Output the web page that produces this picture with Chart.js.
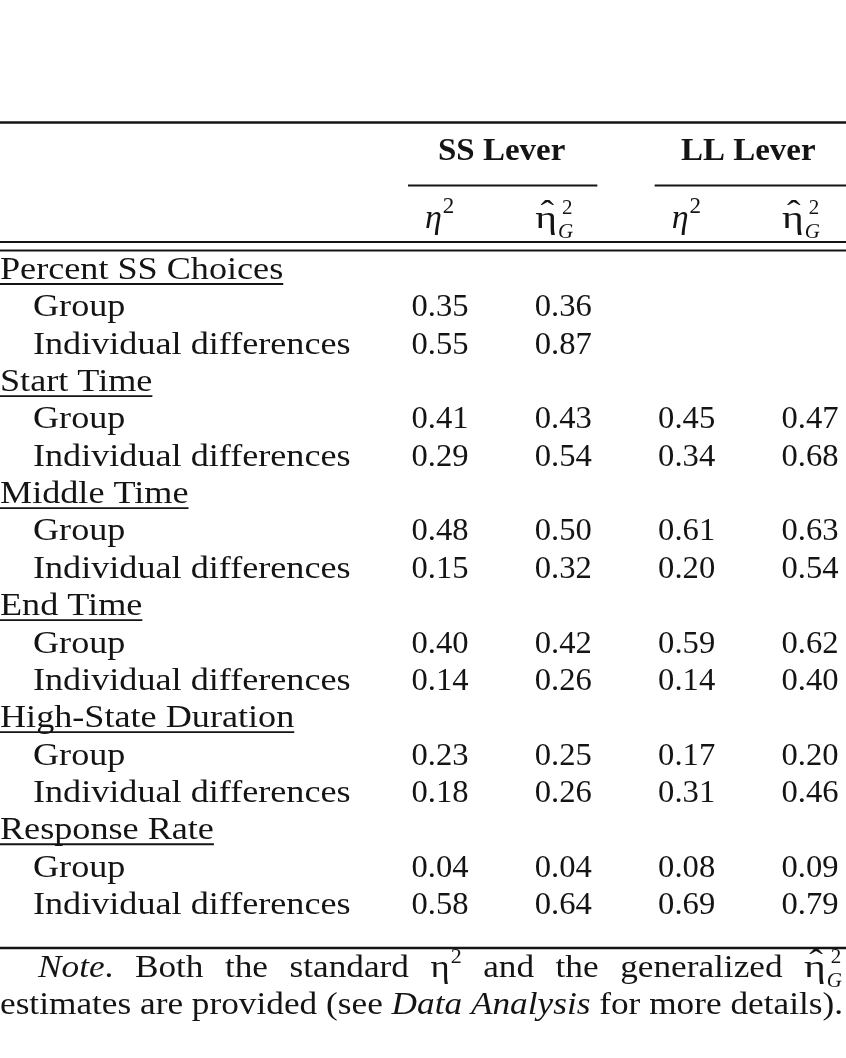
<!DOCTYPE html>
<html><head><meta charset="utf-8">
<script src="https://cdn.jsdelivr.net/npm/chart.js@4/dist/chart.umd.min.js"></script>
<style>html,body{margin:0;padding:0;background:#fff}#wrap{width:846px;height:1058px;position:relative}</style>
</head><body><div id="wrap"><canvas id="c"></canvas></div>
<script>
// ---- data ----
const sections = ['Percent SS Choices','Start Time','Middle Time','End Time','High-State Duration','Response Rate'];
const items = ['Group','Individual differences'];
const leverLabels = ['SS Lever','LL Lever'];
const ssEta  = [0.35,0.55, 0.41,0.29, 0.48,0.15, 0.40,0.14, 0.23,0.18, 0.04,0.58];
const ssEtaG = [0.36,0.87, 0.43,0.54, 0.50,0.32, 0.42,0.26, 0.25,0.26, 0.04,0.64];
const llEta  = [null,null, 0.45,0.34, 0.61,0.20, 0.59,0.14, 0.17,0.31, 0.08,0.69];
const llEtaG = [null,null, 0.47,0.68, 0.63,0.54, 0.62,0.40, 0.20,0.46, 0.09,0.79];
const seriesList = [ssEta, ssEtaG, llEta, llEtaG];
const seriesKinds = ['eta','etaG','eta','etaG'];
const noteLine1 = ['Both','the','standard','η²','and','the','generalized','η̂G²'];
const noteLine2 = [['estimates are provided (see ',false],['Data Analysis',true],[' for more details).',false]];

// ---- layout (pixels / row units) ----
const ROW_PX = 37.35, FIRST_ROW_PX = 268, COL_PX = 123.33, FIRST_COL_PX = 440;
const W = 846, H = 1058;
const SERIF = '"Liberation Serif", "Times New Roman", serif';
const INK = '#141414';

function buildData(vals, col){
  const out = [];
  vals.forEach((v,i)=>{
    if (v === null) return;
    const s = Math.floor(i/2), k = i%2;
    out.push({x: col, y: s*3 + 1 + k, v: v});
  });
  return out;
}

function txt(ctx, t, x, y, font, align, sx, draw){
  ctx.save();
  ctx.font = font;
  ctx.textBaseline = 'alphabetic';
  ctx.textAlign = 'left';
  const w = ctx.measureText(t).width * (sx||1);
  let x0 = x;
  if (align === 'center') x0 = x - w/2;
  else if (align === 'right') x0 = x - w;
  if (draw !== false) {
    ctx.translate(x0, y);
    ctx.scale(sx||1, 1);
    ctx.fillText(t, 0, 0);
  }
  ctx.restore();
  return w;
}
function rule(ctx, x1, x2, y, lw){
  ctx.save(); ctx.strokeStyle = INK; ctx.lineWidth = lw;
  ctx.beginPath(); ctx.moveTo(x1, y); ctx.lineTo(x2, y); ctx.stroke(); ctx.restore();
}
// eta symbols; return total width
function drawEta(ctx, x, base, size, italic, draw){
  const w = txt(ctx, 'η', x, base, (italic?'italic ':'') + size + 'px ' + SERIF, 'left', italic?1:1.15, draw);
  const w2 = txt(ctx, '2', x + w + 1, base - size*0.45, Math.round(size*0.68) + 'px ' + SERIF, 'left', 1, draw);
  return w + 1 + w2;
}
function drawEtaG(ctx, x, base, size, draw){
  const f = size + 'px ' + SERIF;
  const w = txt(ctx, 'η', x, base, f, 'left', 1.3, draw);
  txt(ctx, 'ˆ', x + w/2 + 1, base - size*0.13, Math.round(size*1.05) + 'px ' + SERIF, 'center', 1.2, draw);
  const s = Math.round(size*0.66);
  const wg = txt(ctx, 'G', x + w + 1, base + size*0.3, 'italic ' + s + 'px ' + SERIF, 'left', 1, draw);
  txt(ctx, '2', x + w + 5, base - size*0.45, s + 'px ' + SERIF, 'left', 1, draw);
  return w + 1 + wg;
}

const tablePlugin = {
  id: 'tablePlugin',
  afterDatasetsDraw(chart){
    const ctx = chart.ctx, ys = chart.scales.y, xs = chart.scales.x;
    const L = chart.chartArea.left, R = chart.chartArea.right;
    ctx.save();
    ctx.fillStyle = INK;
    const py = r => ys.getPixelForValue(r);
    const px = c => xs.getPixelForValue(c);
    // rules
    rule(ctx, L, R, 122.5, 2.6);
    rule(ctx, L, R, 242, 2);
    rule(ctx, L, R, 250.5, 2.2);
    rule(ctx, L, R, 948, 2.6);
    // lever headers
    leverLabels.forEach((lab, i)=>{
      const c1 = px(1 + i*2), c2 = px(2 + i*2);
      const baseY = py(-3.16) + 10;
      txt(ctx, lab, (c1+c2)/2, baseY, 'bold 32px ' + SERIF, 'center', 1.03);
      rule(ctx, c1 - 32, i === leverLabels.length-1 ? R : c2 + 34, 185.5, 2.2);
    });
    // sub headers
    seriesKinds.forEach((k, i)=>{
      const cx = px(1 + i), base = py(-1.23) + 6;
      if (k === 'eta') drawEta(ctx, cx - 15, base, 34, true);
      else drawEtaG(ctx, cx - 28, base, 32);
    });
    // row labels
    sections.forEach((s, si)=>{
      const base = py(si*3) + 11;
      const w = txt(ctx, s, L, base, '32px ' + SERIF, 'left', 1.13);
      rule(ctx, L, L + w, base + 5, 1.8);
      items.forEach((it, k)=>{
        txt(ctx, it, L + 33, py(si*3 + 1 + k) + 11, '32px ' + SERIF, 'left', 1.13);
      });
    });
    // values
    chart.data.datasets.forEach((ds, di)=>{
      const meta = chart.getDatasetMeta(di);
      meta.data.forEach((el, j)=>{
        txt(ctx, ds.data[j].v.toFixed(2), el.x, el.y + 11, '32px ' + SERIF, 'center', 1.02);
      });
    });
    // note
    const nb1 = 977, nb2 = 1014, nf = 32;
    let w2 = 0;
    noteLine2.forEach(([t, it])=>{ ctx.font = (it?'italic ':'') + nf + 'px ' + SERIF; w2 += ctx.measureText(t).width; });
    const sx2 = (R - 3 - L) / w2;
    let xx = L;
    noteLine2.forEach(([t, it])=>{ xx += txt(ctx, t, xx, nb2, (it?'italic ':'') + nf + 'px ' + SERIF, 'left', sx2); });
    // line 1 justified
    const start = L + 38;
    const widths = noteLine1.map(wd=>{
      if (wd === 'η²') return drawEta(ctx, 0, 0, nf, false, false);
      if (wd === 'η̂G²') return drawEtaG(ctx, 0, 0, nf, false);
      return txt(ctx, wd, 0, 0, nf + 'px ' + SERIF, 'left', sx2, false);
    });
    let sum = txt(ctx, 'Note', 0, 0, 'italic ' + nf + 'px ' + SERIF, 'left', sx2, false)
            + txt(ctx, '.', 0, 0, nf + 'px ' + SERIF, 'left', sx2, false);
    widths.forEach(w=> sum += w);
    const gap = (R - 4 - start - sum) / noteLine1.length;
    let x1 = start;
    x1 += txt(ctx, 'Note', x1, nb1, 'italic ' + nf + 'px ' + SERIF, 'left', sx2);
    x1 += txt(ctx, '.', x1, nb1, nf + 'px ' + SERIF, 'left', sx2);
    noteLine1.forEach((wd, i)=>{
      x1 += gap;
      if (wd === 'η²') drawEta(ctx, x1, nb1, nf, false);
      else if (wd === 'η̂G²') drawEtaG(ctx, x1, nb1, nf);
      else txt(ctx, wd, x1, nb1, nf + 'px ' + SERIF, 'left', sx2);
      x1 += widths[i];
    });
    ctx.restore();
  }
};

const xMin = 1 - FIRST_COL_PX / COL_PX, xMax = xMin + W / COL_PX;
const yMin = -FIRST_ROW_PX / ROW_PX, yMax = yMin + H / ROW_PX;

new Chart(document.getElementById('c'), {
  type: 'scatter',
  data: { datasets: seriesList.map((vals, i)=>({
    label: 'col' + i, data: buildData(vals, i + 1), pointRadius: 0, pointHoverRadius: 0, showLine: false
  })) },
  options: {
    responsive: true, maintainAspectRatio: false, animation: false,
    layout: { padding: 0 },
    events: [],
    plugins: { legend: { display: false }, tooltip: { enabled: false }, title: { display: false } },
    scales: {
      x: { type: 'linear', min: xMin, max: xMax, display: false },
      y: { type: 'linear', min: yMin, max: yMax, reverse: true, display: false }
    }
  },
  plugins: [tablePlugin]
});
</script></body></html>
